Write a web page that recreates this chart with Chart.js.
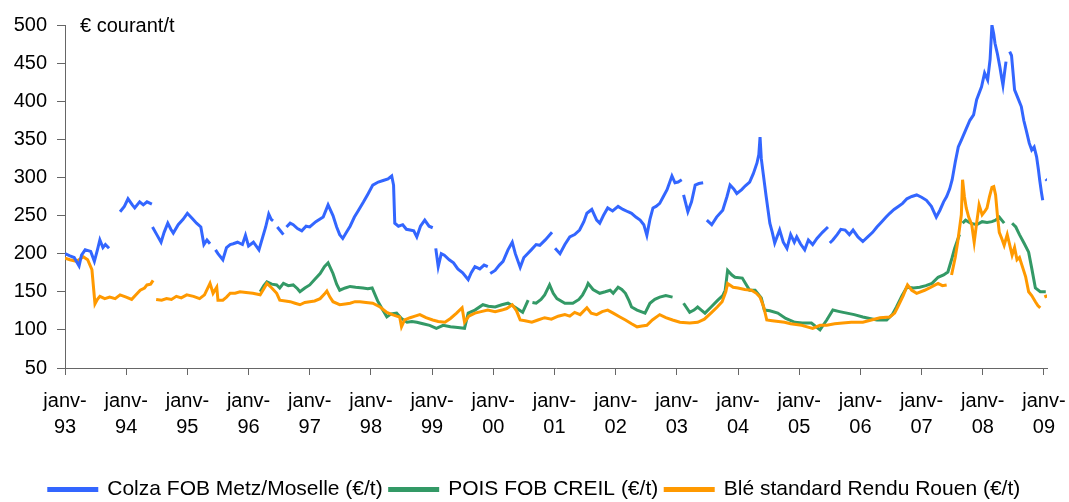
<!DOCTYPE html>
<html>
<head>
<meta charset="utf-8">
<script src="https://cdn.jsdelivr.net/npm/chart.js@4"></script>
<style>
  html, body { margin: 0; padding: 0; background: #fff; }
  #wrap { width: 1069px; height: 502px; }
</style>
</head>
<body>
<div id="wrap"><canvas id="chart" width="1069" height="502"></canvas></div>
<script>
// x values are decimal years (1993.5 = mid 1993), null = gap in the series
const yearTicks = [1993, 1994, 1995, 1996, 1997, 1998, 1999, 2000, 2001, 2002, 2003, 2004, 2005, 2006, 2007, 2008, 2009];
const yearLabels = ['93', '94', '95', '96', '97', '98', '99', '00', '01', '02', '03', '04', '05', '06', '07', '08', '09'];
const seriesNames = ['Colza FOB Metz/Moselle (€/t)', 'POIS FOB CREIL (€/t)', 'Blé standard Rendu Rouen (€/t)'];
const unitLabel = '€ courant/t';

const colzaDates = [
  1993.00, 1993.08, 1993.15, 1993.23, 1993.27, 1993.33, 1993.42, 1993.48, 1993.53, 1993.57, 1993.62, 1993.66, 1993.72, 1993.75,
  1993.90, 1993.97, 1994.03, 1994.10, 1994.14, 1994.22, 1994.28, 1994.34, 1994.42, 1994.425,
  1994.43, 1994.50, 1994.57, 1994.62, 1994.68, 1994.73, 1994.77, 1994.85, 1994.93, 1995.00, 1995.08, 1995.15, 1995.22, 1995.27, 1995.32, 1995.37, 1995.43,
  1995.46, 1995.50, 1995.58, 1995.64, 1995.70, 1995.75, 1995.82, 1995.90, 1995.95, 1996.00, 1996.08, 1996.17, 1996.28, 1996.33, 1996.37, 1996.40, 1996.44,
  1996.47, 1996.52, 1996.57, 1996.59,
  1996.62, 1996.68, 1996.73, 1996.80, 1996.87, 1996.94, 1997.00, 1997.10, 1997.22, 1997.30, 1997.38, 1997.44, 1997.49, 1997.54, 1997.60, 1997.66,
  1997.73, 1997.79, 1997.88, 1997.95, 1998.03, 1998.12, 1998.20, 1998.28, 1998.34, 1998.37, 1998.39, 1998.45, 1998.52, 1998.58, 1998.64, 1998.70,
  1998.75, 1998.81, 1998.88, 1998.95, 1999.01, 1999.03,
  1999.06, 1999.10, 1999.15, 1999.20, 1999.28, 1999.35, 1999.42, 1999.50, 1999.59, 1999.64, 1999.70, 1999.78, 1999.85, 1999.91, 1999.93,
  1999.95, 2000.03, 2000.10, 2000.16, 2000.24, 2000.31, 2000.36, 2000.44, 2000.50, 2000.56, 2000.62, 2000.70, 2000.76, 2000.85, 2000.96, 2000.98,
  2001.01, 2001.09, 2001.17, 2001.25, 2001.33, 2001.41, 2001.48, 2001.53, 2001.61, 2001.69, 2001.74, 2001.80, 2001.87, 2001.95, 2002.04, 2002.12,
  2002.20, 2002.26, 2002.33, 2002.40, 2002.46, 2002.51, 2002.56, 2002.61, 2002.66, 2002.72, 2002.78, 2002.84, 2002.92, 2002.97, 2003.02, 2003.08, 2003.10,
  2003.11, 2003.18, 2003.24, 2003.30, 2003.36, 2003.43, 2003.46,
  2003.49, 2003.57, 2003.65, 2003.75, 2003.82, 2003.87, 2003.93, 2003.98, 2004.06, 2004.12, 2004.19, 2004.25, 2004.31, 2004.34, 2004.36, 2004.38,
  2004.41, 2004.46, 2004.52, 2004.56, 2004.60, 2004.68, 2004.74, 2004.80, 2004.86, 2004.92, 2004.96, 2005.02, 2005.09, 2005.15, 2005.22, 2005.29,
  2005.38, 2005.47, 2005.48,
  2005.50, 2005.55, 2005.62, 2005.68, 2005.75, 2005.82, 2005.88, 2005.96, 2006.04, 2006.12, 2006.20, 2006.27, 2006.35, 2006.42, 2006.48, 2006.55,
  2006.62, 2006.69, 2006.76, 2006.84, 2006.92, 2007.00, 2007.08, 2007.16, 2007.24, 2007.30, 2007.36, 2007.41, 2007.46, 2007.50, 2007.55, 2007.60,
  2007.65, 2007.72, 2007.79, 2007.85, 2007.90, 2007.98, 2008.03, 2008.08, 2008.12, 2008.15, 2008.18, 2008.20, 2008.24, 2008.28, 2008.31, 2008.33,
  2008.36, 2008.38, 2008.41,
  2008.44, 2008.47, 2008.52, 2008.57, 2008.63, 2008.67, 2008.71, 2008.76, 2008.80, 2008.84, 2008.88, 2008.91, 2008.93, 2008.96, 2008.98, 2009.01,
  2009.03, 2009.05
];
const colzaValues = [
  200, 197, 195, 184, 198, 205, 203, 190, 205, 218, 208, 212, 207, null,
  255, 262, 272, 264, 260, 268, 264, 268, 265, null,
  235, 225, 215, 228, 240, 232, 227, 238, 245, 253, 246, 240, 235, 212, 218, 213, null,
  205, 200, 192, 208, 212, 213, 215, 212, 224, 210, 215, 205, 235, 252, 245, 243, null,
  235, 230, 225, null,
  235, 240, 238, 233, 230, 236, 235, 242, 248, 264, 250, 235, 225, 220, 228, 236,
  248, 256, 268, 278, 290, 294, 296, 298, 302, 290, 240, 236, 238, 232, 231, 230,
  222, 236, 244, 236, 234, null,
  207, 183, 200, 198, 192, 188, 180, 175, 166, 175, 183, 180, 185, 183, null,
  174, 178, 185, 190, 205, 215, 200, 182, 195, 200, 205, 212, 211, 218, 228, null,
  207, 200, 212, 222, 225, 231, 242, 253, 258, 244, 240, 250, 260, 256, 262, 258,
  255, 253, 248, 244, 238, 224, 245, 260, 262, 266, 275, 284, 302, 293, 294, 297, null,
  277, 255, 268, 290, 292, 293, null,
  244, 238, 248, 257, 275, 290, 285, 279, 284, 289, 294, 305, 319, 330, 353, 325,
  306, 275, 240, 228, 214, 231, 215, 207, 225, 215, 222, 213, 205, 218, 212, 220,
  228, 235, null,
  214, 218, 225, 232, 231, 225, 231, 222, 216, 222, 228, 235, 242, 248, 253, 258,
  262, 266, 272, 275, 277, 274, 270, 262, 248, 257, 268, 275, 285, 297, 320, 340,
  349, 362, 375, 382, 402, 419, 437, 428, 455, 500, 488, 476, 462, 445, 430, 421,
  440, 452, null,
  465, 460, 415, 405, 393, 375, 362, 345, 336, 340, 327, 310, 297, 280, 270, null,
  298, 296
];

const poisDates = [
  1996.19, 1996.25, 1996.30, 1996.38, 1996.46, 1996.51, 1996.57, 1996.65, 1996.73, 1996.80, 1996.84, 1996.92, 1997.00, 1997.08, 1997.17, 1997.24,
  1997.30, 1997.38, 1997.44, 1997.49, 1997.58, 1997.66, 1997.75, 1997.87, 1997.95, 1998.02, 1998.11, 1998.18, 1998.26, 1998.33, 1998.42, 1998.50,
  1998.59, 1998.67, 1998.75, 1998.85, 1998.96, 1999.07, 1999.18, 1999.30, 1999.42, 1999.53, 1999.59, 1999.70, 1999.83, 1999.92, 2000.03, 2000.14,
  2000.24, 2000.35, 2000.48, 2000.57, 2000.60,
  2000.64, 2000.70, 2000.78, 2000.84, 2000.92, 2000.98, 2001.04, 2001.17, 2001.30, 2001.40, 2001.46, 2001.52, 2001.55, 2001.63, 2001.74, 2001.83,
  2001.91, 2001.96, 2002.04, 2002.10, 2002.16, 2002.22, 2002.26, 2002.35, 2002.48, 2002.56, 2002.64, 2002.72, 2002.82, 2002.93, 2002.98,
  2003.11, 2003.21, 2003.28, 2003.34, 2003.40, 2003.46, 2003.56, 2003.67, 2003.75, 2003.79, 2003.83, 2003.90, 2003.95, 2004.07, 2004.13, 2004.19,
  2004.28, 2004.38, 2004.43, 2004.52, 2004.65, 2004.78, 2004.93, 2005.05, 2005.20, 2005.34, 2005.45, 2005.55, 2005.66, 2005.78, 2005.90, 2006.04,
  2006.15, 2006.27, 2006.43, 2006.52, 2006.59, 2006.68, 2006.76, 2006.87, 2006.97, 2007.07, 2007.17, 2007.27, 2007.36, 2007.43, 2007.50, 2007.54,
  2007.62, 2007.64,
  2007.67, 2007.72, 2007.80, 2007.90, 2007.99, 2008.07, 2008.15, 2008.21, 2008.27, 2008.35, 2008.40,
  2008.48, 2008.54, 2008.60, 2008.68, 2008.75, 2008.80, 2008.86, 2008.94, 2009.03
];
const poisValues = [
  150, 158, 163, 160, 159, 155, 161, 158, 159, 154, 150, 155, 159, 166, 174, 183,
  188, 174, 160, 152, 155, 157, 156, 155, 154, 155, 138, 128, 117, 121, 122, 115,
  110, 111, 110, 108, 106, 102, 106, 104, 103, 102, 122, 126, 133, 131, 130, 133,
  135, 130, 123, 139, null,
  136, 135, 140, 146, 159, 148, 141, 135, 135, 140, 146, 155, 161, 153, 148, 150,
  152, 148, 156, 153, 148, 138, 130, 126, 122, 135, 140, 143, 145, 143, null,
  135, 123, 126, 130, 126, 122, 130, 139, 145, 152, 178, 172, 169, 168, 160, 152,
  152, 142, 126, 125, 122, 115, 110, 109, 109, 100, 113, 126, 124, 122, 120, 117,
  115, 113, 113, 120, 130, 145, 156, 155, 156, 158, 161, 169, 172, 176, 195, 207,
  225, null,
  240, 244, 240, 238, 242, 241, 242, 244, 248, 240, null,
  240, 235, 225, 213, 202, 181, 155, 150, 150
];

const bleDates = [
  1993.00, 1993.08, 1993.19, 1993.30, 1993.37, 1993.44, 1993.47, 1993.49, 1993.53, 1993.57, 1993.65, 1993.73, 1993.82, 1993.90, 1994.00, 1994.09,
  1994.16, 1994.23, 1994.30, 1994.34, 1994.40, 1994.44, 1994.47,
  1994.49, 1994.58, 1994.66, 1994.74, 1994.82, 1994.90, 1994.99, 1995.10, 1995.20, 1995.28, 1995.37, 1995.42, 1995.48, 1995.50, 1995.58, 1995.64,
  1995.70, 1995.78, 1995.86, 1995.96, 1996.07, 1996.19, 1996.25, 1996.30, 1996.38, 1996.46, 1996.51, 1996.60, 1996.68, 1996.76, 1996.84, 1996.92,
  1997.00, 1997.08, 1997.17, 1997.24, 1997.28, 1997.33, 1997.38, 1997.49, 1997.58, 1997.66, 1997.74, 1997.82, 1997.92, 1998.03, 1998.15, 1998.26,
  1998.35, 1998.42, 1998.47, 1998.50, 1998.55, 1998.64, 1998.72, 1998.80, 1998.90, 1999.01, 1999.10, 1999.21, 1999.30, 1999.40, 1999.49, 1999.53,
  1999.60, 1999.70, 1999.80, 1999.91, 2000.03, 2000.14, 2000.22, 2000.31, 2000.38, 2000.44, 2000.52, 2000.63, 2000.73, 2000.84, 2000.95, 2001.06,
  2001.17, 2001.25, 2001.33, 2001.42, 2001.53, 2001.60, 2001.69, 2001.78, 2001.87, 2001.96, 2002.07, 2002.16, 2002.26, 2002.35, 2002.43, 2002.51,
  2002.60, 2002.72, 2002.82, 2002.93, 2003.05, 2003.21, 2003.34, 2003.45, 2003.57, 2003.66, 2003.74, 2003.80, 2003.83, 2003.92, 2004.00, 2004.11,
  2004.22, 2004.30, 2004.36, 2004.42, 2004.47, 2004.56, 2004.66, 2004.76, 2004.86, 2004.95, 2005.04, 2005.13, 2005.22, 2005.34, 2005.45, 2005.58,
  2005.71, 2005.85, 2006.04, 2006.18, 2006.32, 2006.48, 2006.56, 2006.61, 2006.70, 2006.77, 2006.84, 2006.92, 2007.05, 2007.13, 2007.20, 2007.27,
  2007.34, 2007.41, 2007.45,
  2007.49, 2007.55, 2007.59, 2007.65, 2007.67, 2007.70, 2007.73, 2007.77, 2007.82, 2007.86, 2007.90, 2007.94, 2007.99, 2008.03, 2008.07, 2008.11,
  2008.15, 2008.18, 2008.21, 2008.24, 2008.27, 2008.31, 2008.35, 2008.40, 2008.43, 2008.48, 2008.52, 2008.56, 2008.60, 2008.64, 2008.70, 2008.75,
  2008.80, 2008.86, 2008.90, 2008.94, 2008.98,
  2009.02, 2009.04
];
const bleValues = [
  194, 192, 190, 196, 192, 179, 152, 134, 140, 144, 141, 143, 141, 146, 143, 140,
  146, 152, 155, 159, 160, 165, null,
  140, 139, 141, 140, 144, 142, 146, 144, 141, 146, 161, 148, 156, 139, 139, 143,
  148, 148, 150, 149, 148, 146, 154, 161, 155, 148, 139, 138, 137, 135, 133, 136,
  137, 138, 141, 147, 151, 143, 137, 133, 134, 135, 137, 137, 136, 135, 130, 123,
  120, 118, 117, 104, 113, 116, 118, 120, 116, 113, 111, 110, 115, 122, 129, 110,
  118, 122, 124, 126, 124, 126, 128, 133, 125, 113, 112, 110, 113, 116, 114, 118,
  120, 118, 123, 120, 129, 122, 120, 124, 126, 122, 117, 113, 108, 104, 105, 106,
  113, 120, 116, 113, 110, 109, 110, 114, 123, 130, 137, 150, 161, 156, 155, 153,
  152, 148, 143, 130, 113, 112, 111, 110, 108, 107, 106, 104, 102, 106, 106, 108,
  109, 110, 110, 113, 116, 117, 122, 130, 145, 159, 152, 148, 152, 155, 158, 161,
  158, 159, null,
  172, 195, 215, 251, 297, 275, 260, 248, 238, 215, 240, 264, 251, 255, 260, 275,
  287, 288, 277, 250, 228, 220, 211, 225, 215, 198, 208, 192, 195, 185, 170, 150,
  145, 137, 132, 129, null,
  146, 142
];

const colors = ['#3366ff', '#339966', '#ff9900'];

function toPoints(dates, values) {
  return dates.map((d, i) => ({ x: d, y: values[i] }));
}

const fontFamily = '"Liberation Sans", Arial, sans-serif';

const unitText = {
  id: 'unitText',
  afterDraw(chart) {
    const ctx = chart.ctx;
    ctx.save();
    ctx.font = '20px ' + fontFamily;
    ctx.fillStyle = '#000';
    ctx.textAlign = 'left';
    ctx.textBaseline = 'middle';
    ctx.fillText(unitLabel, chart.chartArea.left + 15, 26);
    ctx.restore();
  }
};

const ctx = document.getElementById('chart').getContext('2d');
new Chart(ctx, {
  type: 'line',
  data: {
    datasets: [
      { label: seriesNames[0], data: toPoints(colzaDates, colzaValues), borderColor: colors[0], backgroundColor: colors[0], order: 0 },
      { label: seriesNames[1], data: toPoints(poisDates, poisValues), borderColor: colors[1], backgroundColor: colors[1], order: 2 },
      { label: seriesNames[2], data: toPoints(bleDates, bleValues), borderColor: colors[2], backgroundColor: colors[2], order: 1 }
    ]
  },
  options: {
    responsive: false,
    animation: false,
    spanGaps: false,
    elements: {
      line: { borderWidth: 3, tension: 0 },
      point: { radius: 0 }
    },
    layout: { padding: { top: 25, right: 0, bottom: -8, left: 0 } },
    plugins: {
      tooltip: { enabled: false },
      legend: {
        position: 'bottom',
        labels: {
          boxWidth: 48,
          boxHeight: 2,
          padding: 7,
          color: '#000',
          font: { family: fontFamily, size: 21 },
          sort: (a, b) => a.datasetIndex - b.datasetIndex
        }
      }
    },
    scales: {
      x: {
        type: 'linear',
        min: 1993,
        max: 2009.05,
        afterBuildTicks: (scale) => { scale.ticks = yearTicks.map(v => ({ value: v })); },
        afterFit: (scale) => {
          scale.height = 104;
          scale.paddingLeft = 0;
          scale.paddingRight = 22;
        },
        border: { display: true, color: '#666', width: 1 },
        grid: { display: true, drawOnChartArea: false, drawTicks: true, tickLength: 7, color: '#666' },
        ticks: {
          autoSkip: false,
          maxRotation: 0,
          padding: 13,
          color: '#000',
          font: { family: fontFamily, size: 20, lineHeight: 1.3 },
          callback: (v) => {
            const i = yearTicks.indexOf(v);
            return i >= 0 ? ['janv-', yearLabels[i]] : '';
          }
        }
      },
      y: {
        min: 50,
        max: 500,
        afterFit: (scale) => { scale.width = 65; },
        border: { display: true, color: '#666', width: 1 },
        grid: { display: true, drawOnChartArea: false, drawTicks: true, tickLength: 8, color: '#666' },
        ticks: {
          stepSize: 50,
          padding: 10,
          color: '#000',
          font: { family: fontFamily, size: 20 }
        }
      }
    }
  },
  plugins: [unitText]
});
</script>
</body>
</html>
